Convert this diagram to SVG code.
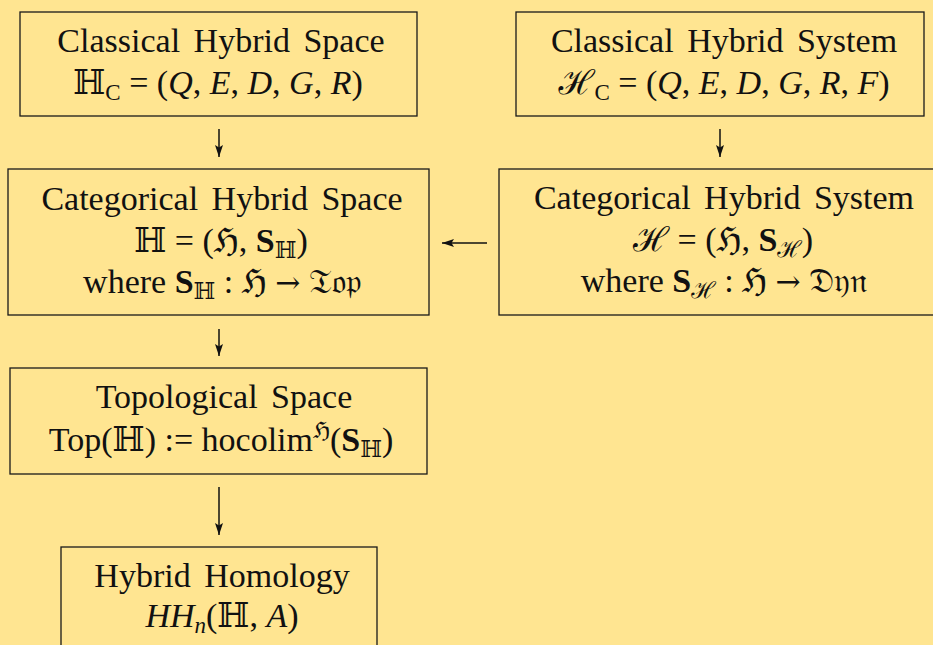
<svg xmlns="http://www.w3.org/2000/svg" width="933" height="645" viewBox="0 0 933 645">
<defs>
<marker id="ah" markerWidth="13" markerHeight="10" refX="12" refY="5" orient="auto" markerUnits="userSpaceOnUse">
<path d="M0,1 L12,5 L0,9 L2.5,5 Z" fill="#111"/>
</marker>
<style>
.bx{fill:none;stroke:#1a1a1a;stroke-width:1.3}
.t{font-family:"Liberation Serif","Times New Roman","DejaVu Serif",serif;font-size:34px;fill:#111;text-anchor:middle;word-spacing:5px}
.mt{word-spacing:0}
.i{font-style:italic}
.b{font-weight:bold}
.sub{font-size:23px}
.m{font-family:"DejaVu Serif","Noto Sans","DejaVu Sans",serif}
.ar{font-family:"DejaVu Serif","DejaVu Sans",serif;font-size:30px}
.c{stroke:#111;stroke-width:1.5;fill:none;marker-end:url(#ah)}
</style>
</defs>
<rect width="933" height="645" fill="#FFE591"/>
<g id="classical-space">
<rect class="bx" x="20" y="12" width="397" height="104"/>
<text class="t" x="221" y="52">Classical Hybrid Space</text>
<text class="t mt" x="218" y="94"><tspan class="m">ℍ</tspan><tspan class="sub" dy="6">C</tspan><tspan dy="-6"> = (</tspan><tspan class="i">Q</tspan>, <tspan class="i">E</tspan>, <tspan class="i">D</tspan>, <tspan class="i">G</tspan>, <tspan class="i">R</tspan>)</text>
</g>
<g id="classical-system">
<rect class="bx" x="516" y="12" width="408" height="104"/>
<text class="t" x="724" y="52">Classical Hybrid System</text>
<text class="t mt" x="724" y="94"><tspan class="m i">ℋ</tspan><tspan class="sub" dy="6">C</tspan><tspan dy="-6"> = (</tspan><tspan class="i">Q</tspan>, <tspan class="i">E</tspan>, <tspan class="i">D</tspan>, <tspan class="i">G</tspan>, <tspan class="i">R</tspan>, <tspan class="i">F</tspan>)</text>
</g>
<g id="categorical-space">
<rect class="bx" x="8" y="169" width="421" height="146"/>
<text class="t" x="222" y="210">Categorical Hybrid Space</text>
<text class="t mt" x="221" y="252"><tspan class="m">ℍ</tspan> = (<tspan class="m">ℌ</tspan>, <tspan class="b">S</tspan><tspan class="sub m" dy="6">ℍ</tspan><tspan dy="-6">)</tspan></text>
<text class="t mt" x="222" y="293">where <tspan class="b">S</tspan><tspan class="sub m" dy="6">ℍ</tspan><tspan dy="-6"> : </tspan><tspan class="m">ℌ</tspan> <tspan class="ar">→</tspan> <tspan class="m">𝔗𝔬𝔭</tspan></text>
</g>
<g id="categorical-system">
<rect class="bx" x="499" y="169" width="450" height="146"/>
<text class="t" x="724" y="209">Categorical Hybrid System</text>
<text class="t mt" x="723" y="251"><tspan class="m i">ℋ</tspan> = (<tspan class="m">ℌ</tspan>, <tspan class="b">S</tspan><tspan class="sub m i" dy="6">ℋ</tspan><tspan dy="-6">)</tspan></text>
<text class="t mt" x="724" y="292">where <tspan class="b">S</tspan><tspan class="sub m i" dy="6">ℋ</tspan><tspan dy="-6"> : </tspan><tspan class="m">ℌ</tspan> <tspan class="ar">→</tspan> <tspan class="m">𝔇𝔶𝔫</tspan></text>
</g>
<g id="topological-space">
<rect class="bx" x="10" y="368" width="417" height="106"/>
<text class="t" x="224" y="408">Topological Space</text>
<text class="t mt" x="221" y="451">Top(<tspan class="m">ℍ</tspan>) := hocolim<tspan class="sub m" dy="-13">ℌ</tspan><tspan dy="13">(</tspan><tspan class="b">S</tspan><tspan class="sub m" dy="6">ℍ</tspan><tspan dy="-6">)</tspan></text>
</g>
<g id="hybrid-homology">
<rect class="bx" x="61" y="547" width="316" height="120"/>
<text class="t" x="222" y="587">Hybrid Homology</text>
<text class="t mt" x="222" y="627"><tspan class="i">HH</tspan><tspan class="sub i" dy="6">n</tspan><tspan dy="-6">(</tspan><tspan class="m">ℍ</tspan>, <tspan class="i">A</tspan>)</text>
</g>
<g id="connectors">
<line class="c" x1="219" y1="129" x2="219" y2="157"/>
<line class="c" x1="720" y1="129" x2="720" y2="157"/>
<line class="c" x1="219" y1="329" x2="219" y2="356"/>
<line class="c" x1="487" y1="243" x2="442" y2="243"/>
<line class="c" x1="219" y1="487" x2="219" y2="535"/>
</g>
</svg>
